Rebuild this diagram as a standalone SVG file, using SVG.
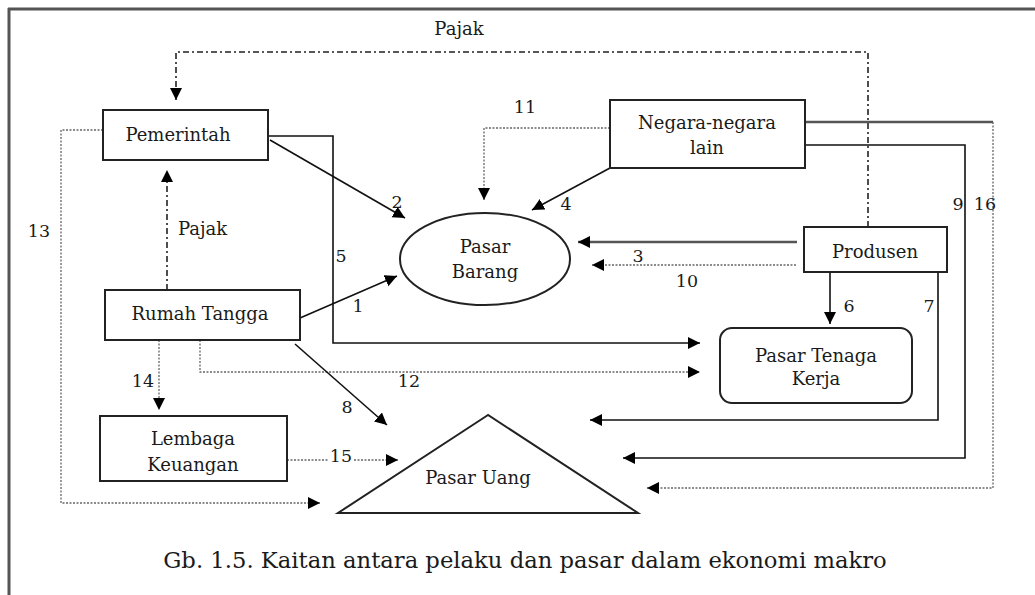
<svg xmlns="http://www.w3.org/2000/svg" width="1035" height="595" viewBox="0 0 1035 595">
<style>
  text { font-family: "DejaVu Serif", "Liberation Serif", serif; fill: #1a1a1a; }
  .lbl { font-size: 18px; text-anchor: middle; }
  .num { font-size: 17.5px; text-anchor: middle; }
  .box { fill: #fff; stroke: #222; stroke-width: 2; }
  .solid { fill: none; stroke: #111; stroke-width: 1.6; }
  .thick { fill: none; stroke: #555; stroke-width: 2.6; }
  .dot { fill: none; stroke: #666; stroke-width: 1.3; stroke-dasharray: 2 1.5; }
  .dashdot { fill: none; stroke: #222; stroke-width: 1.6; stroke-dasharray: 6 3 2 3; }
</style>
<defs>
  <marker id="ah" markerUnits="userSpaceOnUse" markerWidth="13" markerHeight="13" refX="12" refY="6.5" orient="auto">
    <path d="M0,0.5 L12,6.5 L0,12.5 z" fill="#000"/>
  </marker>
</defs>
<rect width="1035" height="595" fill="#fff"/>
<g id="frame">
  <line x1="8" y1="9" x2="1035" y2="9" stroke="#555" stroke-width="3"/>
  <line x1="9" y1="8" x2="9" y2="595" stroke="#555" stroke-width="3"/>
</g>
<g id="connectors">
  <polyline class="dashdot" points="868,227 868,52 176,52 176,100" marker-end="url(#ah)"/>
  <polyline class="dashdot" points="167,290 167,170" marker-end="url(#ah)"/>
  <polyline class="dot" points="103,130 61,130 61,503 320,503" marker-end="url(#ah)"/>
  <polyline class="solid" points="268,136 333,136 333,343 700,343" marker-end="url(#ah)"/>
  <line class="solid" x1="270" y1="140" x2="405" y2="218" marker-end="url(#ah)"/>
  <polyline class="dot" points="610,128 484,128 484,200" marker-end="url(#ah)"/>
  <line class="solid" x1="610" y1="168" x2="532" y2="210" marker-end="url(#ah)"/>
  <line class="thick" x1="805" y1="122" x2="993" y2="122"/>
  <polyline class="dot" points="993,122 993,488 647,488" marker-end="url(#ah)"/>
  <polyline class="solid" points="805,145 965,145 965,458 623,458" stroke-width="2" marker-end="url(#ah)"/>
  <line class="thick" x1="797" y1="242" x2="578" y2="242" marker-end="url(#ah)"/>
  <line class="dot" x1="796" y1="265" x2="592" y2="265" marker-end="url(#ah)"/>
  <line class="solid" x1="830" y1="272" x2="830" y2="324" marker-end="url(#ah)"/>
  <polyline class="solid" points="938,272 938,420 590,420" stroke-width="2" marker-end="url(#ah)"/>
  <line class="solid" x1="300" y1="318" x2="397" y2="276" marker-end="url(#ah)"/>
  <polyline class="dot" points="200,340 200,372 700,372" marker-end="url(#ah)"/>
  <line class="solid" x1="295" y1="344" x2="387" y2="425" marker-end="url(#ah)"/>
  <line class="dot" x1="159" y1="340" x2="159" y2="410" marker-end="url(#ah)"/>
  <line class="dot" x1="287" y1="460" x2="329" y2="460"/>
  <line class="dot" x1="354" y1="460" x2="398" y2="460" marker-end="url(#ah)"/>
</g>
<g id="edge-labels">
  <text class="lbl" x="459" y="35">Pajak</text>
  <text class="lbl" x="178" y="235" style="text-anchor:start">Pajak</text>
  <text class="num" x="525" y="113">11</text>
  <text class="num" x="397" y="208">2</text>
  <text class="num" x="566" y="210">4</text>
  <text class="num" x="341" y="262">5</text>
  <text class="num" x="638" y="262">3</text>
  <text class="num" x="687" y="287">10</text>
  <text class="num" x="849" y="312">6</text>
  <text class="num" x="929" y="312">7</text>
  <text class="num" x="958" y="210">9</text>
  <text class="num" x="985" y="210">16</text>
  <text class="num" x="358" y="312">1</text>
  <text class="num" x="409" y="387">12</text>
  <text class="num" x="143" y="387">14</text>
  <text class="num" x="347" y="413">8</text>
  <text class="num" x="341" y="462">15</text>
  <text class="num" x="39" y="237">13</text>
</g>
<g id="pemerintah">
  <rect class="box" x="103" y="110" width="165" height="50"/>
  <text class="lbl" x="178" y="141">Pemerintah</text>
</g>
<g id="negara">
  <rect class="box" x="610" y="100" width="195" height="68"/>
  <text class="lbl" x="707" y="129">Negara-negara</text>
  <text class="lbl" x="707" y="154">lain</text>
</g>
<g id="pasar-barang">
  <ellipse cx="485" cy="259" rx="85" ry="46" fill="#fff" stroke="#222" stroke-width="2"/>
  <text class="lbl" x="485" y="253">Pasar</text>
  <text class="lbl" x="485" y="278">Barang</text>
</g>
<g id="produsen">
  <rect class="box" x="804" y="227" width="143" height="45"/>
  <text class="lbl" x="875" y="258">Produsen</text>
</g>
<g id="pasar-tenaga-kerja">
  <rect class="box" x="720" y="328" width="192" height="75" rx="12" ry="12"/>
  <text class="lbl" x="816" y="362">Pasar Tenaga</text>
  <text class="lbl" x="816" y="385">Kerja</text>
</g>
<g id="rumah-tangga">
  <rect class="box" x="105" y="290" width="195" height="50"/>
  <text class="lbl" x="200" y="320">Rumah Tangga</text>
</g>
<g id="lembaga-keuangan">
  <rect class="box" x="100" y="416" width="187" height="65"/>
  <text class="lbl" x="193" y="445">Lembaga</text>
  <text class="lbl" x="193" y="471">Keuangan</text>
</g>
<g id="pasar-uang">
  <polygon points="488,415 338,513 638,513" fill="#fff" stroke="#222" stroke-width="2"/>
  <text class="lbl" x="478" y="484">Pasar Uang</text>
</g>
<g id="caption">
  <text x="525" y="568" style="font-size:22.7px;text-anchor:middle">Gb. 1.5. Kaitan antara pelaku dan pasar dalam ekonomi makro</text>
</g>
</svg>
